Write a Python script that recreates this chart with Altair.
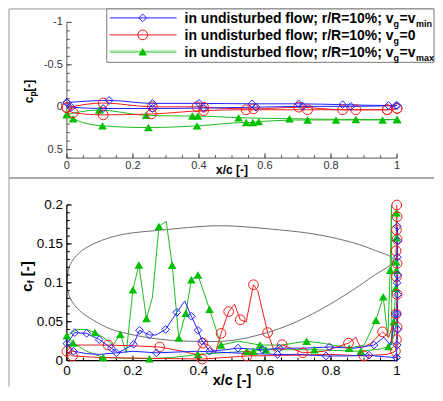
import altair as alt
import pandas as pd

FONT = "Liberation Sans"

# ---------------- top panel: pressure coefficient c_p ----------------
CP_VMIN_UPPER_X = [0.0, 0.128, 0.259, 0.40, 0.561, 0.702, 0.835, 0.974, 1.0]
CP_VMIN_UPPER_Y = [-0.055, -0.08, -0.045, -0.045, -0.04, -0.04, -0.03, -0.02, -0.02]
CP_VMIN_LOWER_X = [0.0, 0.014, 0.11, 0.259, 0.414, 0.573, 0.714, 0.86, 0.997]
CP_VMIN_LOWER_Y = [-0.055, 0.0, 0.015, 0.015, 0.01, 0.0, -0.01, -0.01, -0.02]

CP_V0_UPPER_X = [0.0, 0.11, 0.259, 0.394, 0.414, 0.565, 0.702, 0.835, 0.97, 1.0]
CP_V0_UPPER_Y = [0.005, -0.05, -0.005, -0.005, 0.0, 0.02, 0.0, 0.03, 0.03, 0.015]
CP_V0_LOWER_X = [0.0, 0.019, 0.11, 0.256, 0.414, 0.543, 0.729, 0.875, 0.97, 1.0]
CP_V0_LOWER_Y = [0.005, 0.065, 0.09, 0.08, 0.04, 0.03, 0.03, 0.03, 0.03, 0.015]

CP_VMAX_UPPER_X = [0.0, 0.098, 0.24, 0.38, 0.397, 0.52, 0.674, 0.875, 1.0]
CP_VMAX_UPPER_Y = [0.085, 0.033, 0.096, 0.104, 0.104, 0.124, 0.135, 0.145, 0.145]
CP_VMAX_LOWER_X = [0.0, 0.019, 0.108, 0.247, 0.394, 0.543, 0.563, 0.581, 0.729, 0.815, 0.956, 1.0]
CP_VMAX_LOWER_Y = [0.085, 0.135, 0.22, 0.24, 0.22, 0.18, 0.18, 0.17, 0.15, 0.15, 0.15, 0.145]

# ---------------- bottom panel: skin friction c_f ----------------
CF_VMAX_UPPER_X = [0.0, 0.03, 0.06, 0.085, 0.11, 0.14, 0.162, 0.18, 0.2, 0.218, 0.241, 0.259,
                   0.279, 0.301, 0.319, 0.339, 0.36, 0.377, 0.397, 0.432, 0.467, 0.52, 0.585,
                   0.65, 0.726, 0.78, 0.855, 0.9, 0.936, 0.958, 0.972, 0.979,
                   0.983, 0.984, 0.99, 0.996, 0.998, 0.997, 0.998, 0.997, 0.998]
CF_VMAX_UPPER_Y = [0.032, 0.04, 0.04, 0.036, 0.03, 0.02, 0.034, 0.01, 0.091, 0.123, 0.054, 0.081,
                   0.1725, 0.179, 0.1225, 0.029, 0.061, 0.104, 0.11, 0.066, 0.02, 0.025, 0.02,
                   0.02, 0.025, 0.022, 0.016, 0.02, 0.052, 0.082, 0.03, 0.116,
                   0.2, 0.02, 0.05, 0.093, 0.116, 0.127, 0.158, 0.175, 0.19]
CF_VMAX_UPPER_M = [1, 0, 0, 1, 0, 0, 1, 0, 1, 1, 1, 0,
                   1, 0, 1, 1, 1, 1, 1, 1, 1, 0, 1,
                   0, 1, 0, 1, 0, 1, 1, 0, 1,
                   0, 0, 1, 1, 1, 1, 1, 0, 1]
CF_VMAX_LOWER_X = [0.0, 0.019, 0.06, 0.11, 0.18, 0.25, 0.32, 0.397, 0.47, 0.545, 0.565, 0.603,
                   0.68, 0.75, 0.82, 0.89, 0.95, 0.974, 0.99, 0.998]
CF_VMAX_LOWER_Y = [0.032, 0.0225, 0.012, 0.004, 0.003, 0.0025, 0.004, 0.008, 0.01, 0.012, 0.012,
                   0.014, 0.014, 0.014, 0.013, 0.012, 0.015, 0.018, 0.03, 0.05]
CF_VMAX_LOWER_M = [0, 1, 0, 1, 0, 1, 0, 1, 0, 1, 1, 1, 0, 1, 0, 1, 0, 1, 0, 0]

CF_VMIN_UPPER_X = [0.0, 0.024, 0.06, 0.098, 0.135, 0.155, 0.202, 0.22, 0.25, 0.27, 0.299, 0.333,
                   0.357, 0.377, 0.397, 0.41, 0.432, 0.48, 0.518, 0.593, 0.643, 0.72, 0.795,
                   0.87, 0.93, 0.96, 0.98, 0.995]
CF_VMIN_UPPER_Y = [0.022, 0.036, 0.035, 0.027, 0.016, 0.01, 0.021, 0.039, 0.033, 0.033, 0.04, 0.062,
                   0.0766, 0.057, 0.039, 0.025, 0.012, 0.014, 0.016, 0.014, 0.016, 0.016, 0.0175,
                   0.016, 0.02, 0.03, 0.02, 0.06]
CF_VMIN_UPPER_M = [1, 1, 1, 1, 1, 0, 1, 1, 1, 0, 1, 1, 0, 1, 1, 1, 1, 0, 1, 1, 1, 0, 1, 0, 1, 0, 0, 1]
CF_VMIN_LOWER_X = [0.0, 0.02, 0.06, 0.1, 0.15, 0.2, 0.271, 0.33, 0.4, 0.45, 0.5, 0.56, 0.638, 0.7,
                   0.785, 0.85, 0.915, 0.96, 0.998]
CF_VMIN_LOWER_Y = [0.022, 0.012, 0.009, 0.008, 0.01, 0.012, 0.01, 0.011, 0.012, 0.011, 0.01, 0.009,
                   0.008, 0.008, 0.006, 0.006, 0.007, 0.005, 0.004]
CF_VMIN_LOWER_M = [0, 1, 0, 0, 1, 0, 1, 0, 0, 0, 0, 0, 1, 0, 1, 0, 1, 0, 1]
CF_VMIN_TE_X = [0.998, 1.0, 1.002, 1.001, 1.002, 1.0, 1.002, 1.001, 1.002, 1.001]
CF_VMIN_TE_Y = [0.004, 0.02, 0.04, 0.06, 0.085, 0.1, 0.11, 0.133, 0.154, 0.1725]

CF_V0_UPPER_X = [0.0, 0.017, 0.06, 0.125, 0.2, 0.281, 0.35, 0.39, 0.412, 0.43, 0.45, 0.467, 0.49,
                 0.508, 0.525, 0.543, 0.565, 0.578, 0.608, 0.628, 0.652, 0.714, 0.78, 0.853, 0.875,
                 0.89, 0.92, 0.956, 0.975, 0.99]
CF_V0_UPPER_Y = [0.012, 0.02, 0.02, 0.02, 0.019, 0.0175, 0.012, 0.008, 0.0225, 0.02, 0.01, 0.035,
                 0.063, 0.0725, 0.0525, 0.0496, 0.0975, 0.09, 0.036, 0.012, 0.0204, 0.01, 0.012,
                 0.0225, 0.03, 0.016, 0.022, 0.037, 0.03, 0.05]
CF_V0_UPPER_M = [1, 0, 0, 1, 0, 1, 0, 0, 1, 0, 0, 1, 1, 0, 1, 0, 1, 0, 1, 0, 1, 1, 0, 1, 0, 0, 0, 1, 0, 0]
CF_V0_LOWER_X = [0.0, 0.017, 0.1, 0.25, 0.41, 0.545, 0.7, 0.8, 0.9, 0.97, 0.995]
CF_V0_LOWER_Y = [0.012, 0.006, 0.004, 0.003, 0.002, 0.006, 0.007, 0.008, 0.006, 0.008, 0.012]
CF_V0_LOWER_M = [0, 1, 0, 0, 1, 1, 0, 0, 1, 0, 0]
CF_V0_TE_X = [0.995, 0.998, 1.0, 0.997, 1.0, 0.998, 1.0, 0.997, 1.0, 0.998, 1.0, 0.999]
CF_V0_TE_Y = [0.012, 0.027, 0.043, 0.06, 0.085, 0.108, 0.125, 0.141, 0.156, 0.168, 0.185, 0.2]

AIRFOIL_X = [0.0, 0.009, 0.039, 0.08, 0.13, 0.18, 0.281, 0.462, 0.643, 0.744, 0.845, 0.925, 0.99,
             0.925, 0.845, 0.744, 0.643, 0.513, 0.41, 0.281, 0.18, 0.13, 0.08, 0.039, 0.009, 0.0]
AIRFOIL_Y = [0.1, 0.1225, 0.139, 0.15, 0.158, 0.163, 0.1675, 0.1733, 0.168, 0.163, 0.154, 0.143, 0.129,
             0.108, 0.085, 0.06, 0.041, 0.0267, 0.0246, 0.0275, 0.035, 0.041, 0.052, 0.064, 0.081, 0.1]

# ---------------- axes ----------------
X_MAJOR = [0, 0.2, 0.4, 0.6, 0.8, 1]
X_LABELS = ["0", "0.2", "0.4", "0.6", "0.8", "1"]
X_MINOR = [i / 20 for i in range(21)]
CP_MAJOR = [-1, -0.5, 0, 0.5]
CP_LABELS = ["-1", "-0.5", "0", "0.5"]
CP_MINOR = [round(-1 + i / 10, 2) for i in range(17)]
CF_MAJOR = [0, 0.05, 0.1, 0.15, 0.2]
CF_LABELS = ["0", "0.05", "0.1", "0.15", "0.2"]
CF_MINOR = [i / 100 for i in range(21)]
X_TITLE = "x/c [-]"

LEGEND_MAIN = "in undisturbed flow; r/R=10%; v"
LEGEND_ROWS = [("vmin", "=v", "min"), ("v0", "=0", ""), ("vmax", "=v", "max")]

COLORS = {"vmin": "#2020ff", "v0": "#ee1c1c", "vmax": "#22bb22"}
MARK_COLORS = {"vmin": "#2020ff", "v0": "#ee1c1c", "vmax": "#00c000"}
SHAPES = {"vmin": ("diamond", False, 60), "v0": ("circle", False, 95), "vmax": ("triangle-up", True, 75)}

TOP_W, TOP_H = 331, 136
BOT_W, BOT_H = 331, 156


def curve(series, name, xs, ys, marks=None):
    n = len(xs)
    return pd.DataFrame({
        "series": series,
        "key": f"{series}-{name}",
        "ord": list(range(n)),
        "x": xs,
        "v": ys,
        "mk": marks if marks is not None else [1] * n,
    })


top_df = pd.concat([
    curve("vmax", "up", CP_VMAX_UPPER_X, CP_VMAX_UPPER_Y),
    curve("vmax", "lo", CP_VMAX_LOWER_X, CP_VMAX_LOWER_Y),
    curve("v0", "up", CP_V0_UPPER_X, CP_V0_UPPER_Y),
    curve("v0", "lo", CP_V0_LOWER_X, CP_V0_LOWER_Y),
    curve("vmin", "up", CP_VMIN_UPPER_X, CP_VMIN_UPPER_Y),
    curve("vmin", "lo", CP_VMIN_LOWER_X, CP_VMIN_LOWER_Y),
], ignore_index=True)

bot_df = pd.concat([
    curve("vmax", "up", CF_VMAX_UPPER_X, CF_VMAX_UPPER_Y, CF_VMAX_UPPER_M),
    curve("vmax", "lo", CF_VMAX_LOWER_X, CF_VMAX_LOWER_Y, CF_VMAX_LOWER_M),
    curve("v0", "up", CF_V0_UPPER_X, CF_V0_UPPER_Y, CF_V0_UPPER_M),
    curve("v0", "lo", CF_V0_LOWER_X, CF_V0_LOWER_Y, CF_V0_LOWER_M),
    curve("v0", "te", CF_V0_TE_X, CF_V0_TE_Y),
    curve("vmin", "up", CF_VMIN_UPPER_X, CF_VMIN_UPPER_Y, CF_VMIN_UPPER_M),
    curve("vmin", "lo", CF_VMIN_LOWER_X, CF_VMIN_LOWER_Y, CF_VMIN_LOWER_M),
    curve("vmin", "te", CF_VMIN_TE_X, CF_VMIN_TE_Y),
], ignore_index=True)

airfoil_df = pd.DataFrame({"x": AIRFOIL_X, "v": AIRFOIL_Y, "ord": list(range(len(AIRFOIL_X)))})
ONE = pd.DataFrame({"a": [0]})

color_scale = alt.Scale(domain=list(COLORS), range=list(COLORS.values()))
xs_top = alt.Scale(domain=[0, 1], nice=False, zero=False)
ys_top = alt.Scale(domain=[-1, 0.6], reverse=True, nice=False, zero=False)
xs_bot = alt.Scale(domain=[0, 1], nice=False, zero=False)
ys_bot = alt.Scale(domain=[0, 0.2], nice=False, zero=False)


def X(field, scale):
    return alt.X(field, scale=scale, axis=None)


def Y(field, scale):
    return alt.Y(field, scale=scale, axis=None)


def xticks(values, length, height, scale, color):
    return alt.Chart(pd.DataFrame({"t": values})).mark_rule(color=color, strokeWidth=1).encode(
        x=X("t:Q", scale), y=alt.value(height), y2=alt.value(height - length))


def yticks(values, length, scale, color):
    return alt.Chart(pd.DataFrame({"t": values})).mark_rule(color=color, strokeWidth=1).encode(
        y=Y("t:Q", scale), x=alt.value(0), x2=alt.value(length))


def xlabels(values, labels, scale, ypos, size, color):
    return alt.Chart(pd.DataFrame({"t": values, "lab": labels})).mark_text(
        align="center", baseline="top", font=FONT, fontSize=size, color=color).encode(
        x=X("t:Q", scale), y=alt.value(ypos), text="lab:N")


def ylabels(values, labels, scale, size, color):
    return alt.Chart(pd.DataFrame({"t": values, "lab": labels})).mark_text(
        align="right", baseline="middle", font=FONT, fontSize=size, color=color).encode(
        y=Y("t:Q", scale), x=alt.value(-4), text="lab:N")


def markers(df, xs, ys):
    out = []
    for s in ["vmax", "v0", "vmin"]:
        shape, filled, size = SHAPES[s]
        sub = df[(df.series == s) & (df.mk == 1)]
        out.append(alt.Chart(sub).mark_point(shape=shape, filled=filled, size=size,
                                             strokeWidth=1, color=MARK_COLORS[s], opacity=1).encode(
            x=X("x:Q", xs), y=Y("v:Q", ys)))
    return out


def rule(x, x2, y, y2, color, width):
    return alt.Chart(ONE).mark_rule(color=color, strokeWidth=width).encode(
        x=alt.value(x), x2=alt.value(x2), y=alt.value(y), y2=alt.value(y2))


def label(text, x, y, size, angle=0, align="left", color="#000"):
    return alt.Chart(ONE).mark_text(text=text, align=align, baseline="alphabetic", font=FONT,
                                    fontSize=size, fontWeight="bold", angle=angle, color=color).encode(
        x=alt.value(x), y=alt.value(y))


RIGHT = 368  # right edge of the frame / legend box in panel pixels

# ---------------- top panel ----------------
top_lines = alt.Chart(top_df).mark_line(strokeWidth=1, interpolate="monotone").encode(
    x=X("x:Q", xs_top), y=Y("v:Q", ys_top),
    color=alt.Color("series:N", scale=color_scale, legend=None),
    detail="key:N", order="ord:Q")

top_layers = [
    top_lines,
    rule(-58, -58, -13.5, 156, "#999", 1),
    rule(-58, RIGHT, -13.5, -13.5, "#999", 1),
    rule(0, 0, 0, TOP_H, "#555", 1),
    rule(0, TOP_W, TOP_H, TOP_H, "#555", 1),
    xticks(X_MINOR, 3, TOP_H, xs_top, "#555"),
    xticks(X_MAJOR, 5, TOP_H, xs_top, "#555"),
    yticks(CP_MINOR, 3, ys_top, "#555"),
    yticks(CP_MAJOR, 5, ys_top, "#555"),
    xlabels(X_MAJOR, X_LABELS, xs_top, TOP_H + 2, 11, "#333"),
    ylabels(CP_MAJOR, CP_LABELS, ys_top, 11, "#333"),
    label(X_TITLE, TOP_W / 2, 152, 12, align="center"),
    *markers(top_df, xs_top, ys_top),
    alt.Chart(ONE).mark_rect(fill="white", stroke="#777", strokeWidth=1).encode(
        x=alt.value(40), x2=alt.value(RIGHT), y=alt.value(-13.5), y2=alt.value(40)),
    label("c", -34, 81, 12, 270),
    label("p", -31, 74.3, 8.5, 270),
    label("[-]", -34, 69.5, 12, 270),
]

LEG_SYM_Y = [-4.5, 12.5, 29.5]
LEG_BASE_Y = [1, 18, 35]
for (s, tail, sub), sy, by in zip(LEGEND_ROWS, LEG_SYM_Y, LEG_BASE_Y):
    shape, filled, size = SHAPES[s]
    lw = 2.5 if s == "vmax" else 1
    lc = "#8fe08f" if s == "vmax" else COLORS[s]
    top_layers.append(rule(43, 110, sy, sy, lc, lw))
    top_layers.append(alt.Chart(ONE).mark_point(shape=shape, filled=filled, size=size, strokeWidth=1,
                                                color=MARK_COLORS[s], opacity=1).encode(
        x=alt.value(76), y=alt.value(sy)))
    top_layers.append(label(LEGEND_MAIN, 118, by, 14))
    top_layers.append(label("g", 327.5, by + 4, 9))
    top_layers.append(label(tail, 333.5, by, 14))
    if sub:
        top_layers.append(label(sub, 350, by + 4, 9))

top = alt.layer(*top_layers).properties(width=TOP_W, height=TOP_H)

# ---------------- bottom panel ----------------
airfoil = alt.Chart(airfoil_df).mark_line(color="#6e6e6e", strokeWidth=1, interpolate="catmull-rom").encode(
    x=X("x:Q", xs_bot), y=Y("v:Q", ys_bot), order="ord:Q")

bot_lines = alt.Chart(bot_df).mark_line(strokeWidth=1).encode(
    x=X("x:Q", xs_bot), y=Y("v:Q", ys_bot),
    color=alt.Color("series:N", scale=color_scale, legend=None),
    detail="key:N", order="ord:Q")

bot_layers = [
    rule(-58, RIGHT, -27, -27, "#aaa", 2),
    rule(-58, -58, -27, 182, "#999", 1),
    airfoil,
    rule(0, 0, 0, BOT_H, "#000", 1.3),
    rule(0, BOT_W, BOT_H, BOT_H, "#000", 1.3),
    xticks(X_MINOR, 3, BOT_H, xs_bot, "#000"),
    xticks(X_MAJOR, 5, BOT_H, xs_bot, "#000"),
    yticks(CF_MINOR, 3, ys_bot, "#000"),
    yticks(CF_MAJOR, 5, ys_bot, "#000"),
    xlabels(X_MAJOR, X_LABELS, xs_bot, BOT_H + 3, 13.5, "#000"),
    ylabels(CF_MAJOR, CF_LABELS, ys_bot, 13.5, "#000"),
    label(X_TITLE, BOT_W / 2, 180, 14.5, align="center"),
    bot_lines,
    *markers(bot_df, xs_bot, ys_bot),
    label("c", -35, 87, 15, 270),
    label("f", -33, 78.7, 10, 270),
    label("[-]", -35, 71.5, 15, 270),
]
bottom = alt.layer(*bot_layers).properties(width=BOT_W, height=BOT_H)

chart = alt.vconcat(top, bottom, spacing=47, bounds="flush").properties(
    padding=0
).configure_view(stroke=None)

chart.save("out.html", embed_options={"renderer": "svg", "actions": False})
